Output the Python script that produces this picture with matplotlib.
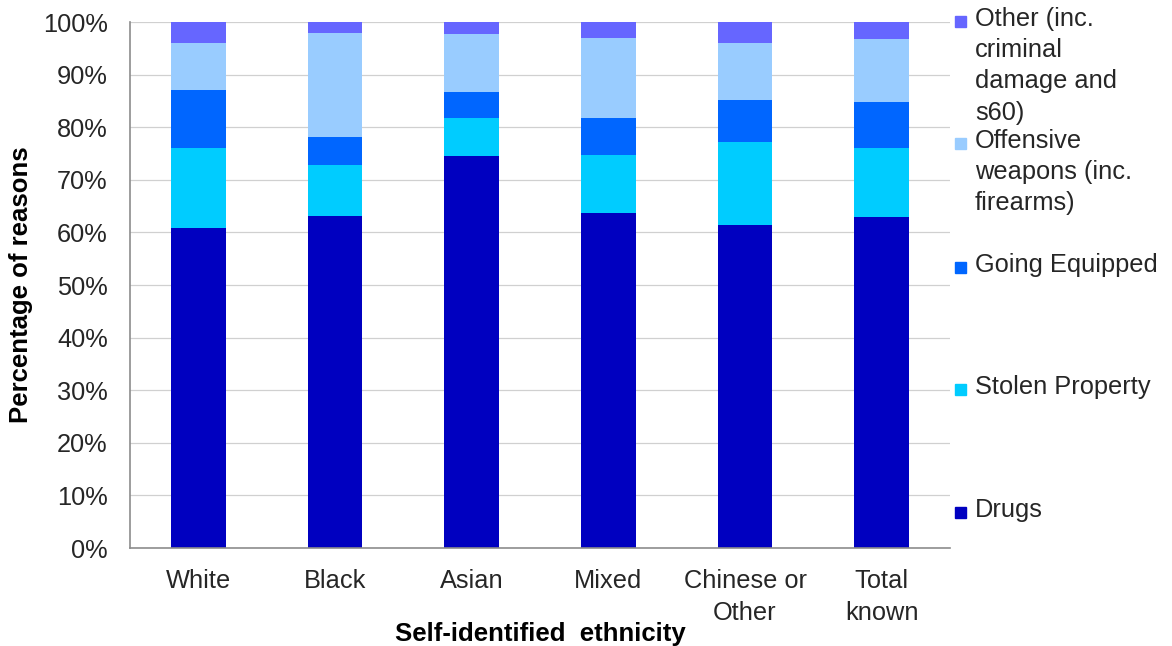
import matplotlib
matplotlib.use('Agg')
import matplotlib.pyplot as plt
from matplotlib.patches import Rectangle
import numpy as np

plt.rcParams['font.family'] = ['Liberation Sans', 'DejaVu Sans']

# categories and stacked percentages (bottom to top)
groups = ['White', 'Black', 'Asian', 'Mixed', 'Chinese or\nOther', 'Total\nknown']
drugs = [60.8, 63.2, 74.5, 63.6, 61.4, 62.9]
stolen = [15.3, 9.7, 7.3, 11.2, 15.8, 13.1]
going_equipped = [10.9, 5.2, 4.9, 7.0, 8.0, 8.8]
offensive = [9.1, 19.9, 11.0, 15.2, 10.9, 11.9]
other = [3.9, 2.0, 2.3, 3.0, 3.9, 3.3]

series = [drugs, stolen, going_equipped, offensive, other]
colors = ['#0000C0', '#00CCFF', '#0066FF', '#99CCFF', '#6666FF']
labels = ['Drugs', 'Stolen Property', 'Going Equipped',
          'Offensive\nweapons (inc.\nfirearms)',
          'Other (inc.\ncriminal\ndamage and\ns60)']

fig = plt.figure(figsize=(11.72, 6.46), dpi=100)
ax = fig.add_axes([0.1109, 0.1517, 0.6997, 0.8142])

x = np.arange(len(groups))
bottom = np.zeros(len(groups))
for vals, c, lab in zip(series, colors, labels):
    ax.bar(x, vals, 0.4, bottom=bottom, color=c, label=lab, zorder=2)
    bottom += np.array(vals)

ax.set_xlim(-0.5, len(groups) - 0.5)
ax.set_ylim(0, 100)
ax.set_yticks(np.arange(0, 101, 10))
ax.set_yticklabels([f'{v}%' for v in range(0, 101, 10)])
ax.set_xticks(x)
ax.set_xticklabels(groups, linespacing=1.45)
ax.tick_params(axis='y', length=0, pad=16, labelsize=18.3, colors='#262626')
ax.tick_params(axis='x', length=0, pad=15, labelsize=18.3, colors='#262626')
ax.grid(axis='y', color='#d0d0d0', lw=0.9, zorder=0)
for s in ['top', 'right']:
    ax.spines[s].set_visible(False)
for s in ['left', 'bottom']:
    ax.spines[s].set_color('#8c8c8c')
    ax.spines[s].set_linewidth(1.2)

ax.set_xlabel('Self-identified  ethnicity', fontsize=18.5, fontweight='bold', va='center')
ax.xaxis.set_label_coords(0.5, -0.163)
ax.set_ylabel('Percentage of reasons', fontsize=18.5, fontweight='bold', va='center')
ax.yaxis.set_label_coords(-0.133, 0.5)

# Excel-style legend spread down the right side
W, H = 1172, 646
legend_y = [512, 389, 267, 143, 21]  # pixel y of first line for each entry
for lab, c, ypx in zip(labels, colors, legend_y):
    fig.patches.append(Rectangle((955 / W, 1 - (ypx + 6) / H), 11 / W, 11 / H,
                                 transform=fig.transFigure, color=c))
    fig.text(975 / W, 1 - (ypx - 14) / H, lab, fontsize=18.3, va='top', ha='left',
             linespacing=1.38, color='#262626')

fig.savefig('out.png', dpi=100)
